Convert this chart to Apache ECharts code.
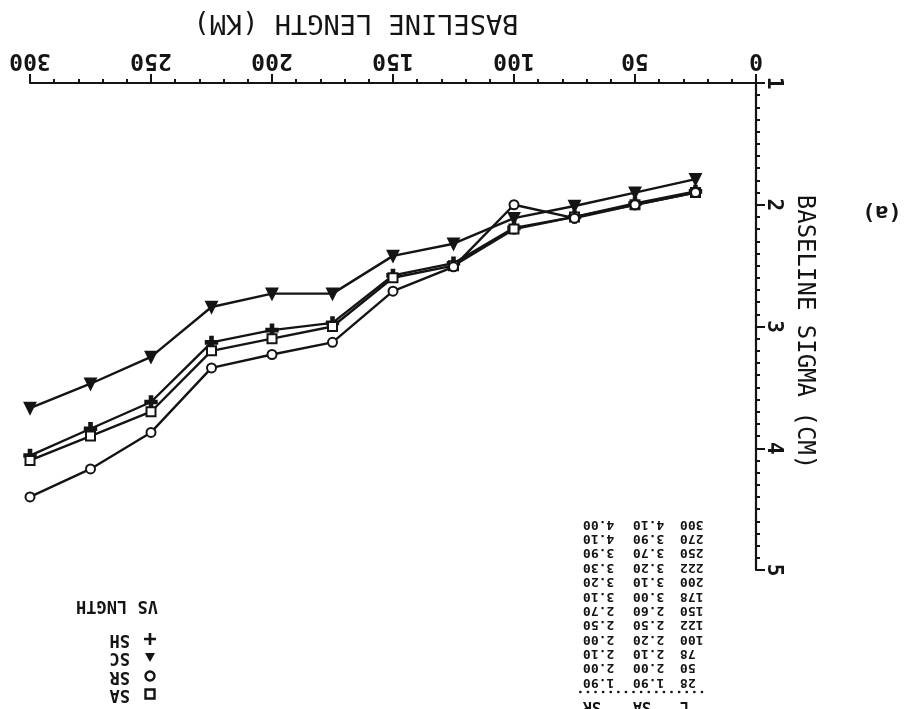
<!DOCTYPE html>
<html>
<head>
<meta charset="utf-8">
<script src="https://cdn.jsdelivr.net/npm/echarts@6/dist/echarts.min.js"></script>
<style>
  html, body { margin: 0; padding: 0; background: #fff; }
  #chart { width: 924px; height: 709px; }
</style>
</head>
<body>
<div id="chart"></div>
<script>
// Baseline length (km) and formal sigma (cm) for the four solutions
const lengthsKm = [25, 50, 75, 100, 125, 150, 175, 200, 225, 250, 275, 300];
const sigmaSH = [1.89, 1.99, 2.10, 2.19, 2.48, 2.58, 2.97, 3.03, 3.13, 3.62, 3.84, 4.06];
const sigmaSC = [1.79, 1.90, 2.01, 2.11, 2.32, 2.42, 2.73, 2.73, 2.84, 3.25, 3.47, 3.67];
const sigmaSR = [1.90, 2.00, 2.11, 2.00, 2.51, 2.71, 3.13, 3.23, 3.34, 3.87, 4.17, 4.40];
const sigmaSA = [1.90, 2.00, 2.10, 2.20, 2.50, 2.60, 3.00, 3.10, 3.20, 3.70, 3.90, 4.10];

// Printed listing beside the plot
const tableHeader = ['L', 'SA', 'SR'];
const tableL = [28, 50, 78, 100, 122, 150, 178, 200, 222, 250, 270, 300];
const tableA = ['1.90', '2.00', '2.10', '2.20', '2.50', '2.60', '3.00', '3.10', '3.20', '3.70', '3.90', '4.10'];
const tableB = ['1.90', '2.00', '2.10', '2.00', '2.50', '2.70', '3.10', '3.20', '3.30', '3.90', '4.10', '4.00'];

const legendNames = ['SA', 'SR', 'SC', 'SH'];
const legendTitle = 'VS LNGTH';
const xTitle = 'BASELINE LENGTH (KM)';
const yTitle = 'BASELINE SIGMA (CM)';
const panelTag = '(a)';

const INK = '#141414';
const MONO = '"DejaVu Sans Mono", "Liberation Mono", monospace';
const PLUS = 'path://M4,0H6V4H10V6H6V10H4V6H0V4H4Z';

function pairs(ys) { return lengthsKm.map((x, i) => [x, ys[i]]); }

function lineSeries(name, ys, symbol, size, extra) {
  return Object.assign({
    name: name,
    type: 'line',
    data: pairs(ys),
    symbol: symbol,
    symbolSize: size,
    showAllSymbol: true,
    lineStyle: { color: INK, width: 2.4 },
    itemStyle: { color: INK, borderColor: INK, borderWidth: 2.4 },
    emphasis: { disabled: true },
    animation: false
  }, extra || {});
}

// Legend block (printed upside down with the rest of the sheet)
const legendSymbols = {
  SA: { type: 'rect', shape: { x: -4.5, y: -4.5, width: 9, height: 9 }, style: { fill: '#fff', stroke: INK, lineWidth: 2.4 } },
  SR: { type: 'circle', shape: { cx: 0, cy: 0, r: 4.5 }, style: { fill: '#fff', stroke: INK, lineWidth: 2.4 } },
  SC: { type: 'polygon', shape: { points: [[0, -5], [5, 4], [-5, 4]] }, style: { fill: INK } },
  SH: { type: 'polygon', shape: { points: [[-1.3,-6],[1.3,-6],[1.3,-1.3],[6,-1.3],[6,1.3],[1.3,1.3],[1.3,6],[-1.3,6],[-1.3,1.3],[-6,1.3],[-6,-1.3],[-1.3,-1.3]] }, style: { fill: INK } }
};
const legendChildren = [];
const legendRowY = [16, 34, 53, 71];
legendNames.forEach((n, i) => {
  const s = legendSymbols[n];
  legendChildren.push(Object.assign({}, s, { x: 25, y: legendRowY[i] }));
  legendChildren.push({
    type: 'text', x: 45, y: legendRowY[i],
    style: { text: n, font: 'bold 17px ' + MONO, fill: INK, verticalAlign: 'middle' }
  });
});
legendChildren.push({
  type: 'text', x: 58, y: 105,
  style: { text: legendTitle, font: 'bold 17px ' + MONO, fill: INK, align: 'center', verticalAlign: 'middle' }
});

// Listing block
const tableChildren = [];
const tFont = 'bold 13px ' + MONO;
const colRight = [22, 69, 119];
tableHeader.forEach((h, i) => {
  tableChildren.push({ type: 'text', x: colRight[i], y: 6,
    style: { text: h, font: 'bold 15px ' + MONO, fill: INK, align: 'right', verticalAlign: 'middle' } });
});
tableChildren.push({ type: 'line', shape: { x1: 0, y1: 20, x2: 122, y2: 20 },
  style: { stroke: INK, lineWidth: 2.6, lineDash: [0.1, 7.5], lineCap: 'round' } });
tableL.forEach((v, i) => {
  const y = 30 + i * 14.35;
  [String(v), tableA[i], tableB[i]].forEach((t, c) => {
    tableChildren.push({ type: 'text', x: colRight[c], y: y,
      style: { text: t, font: tFont, fill: INK, align: 'right', verticalAlign: 'middle' } });
  });
});

const chart = echarts.init(document.getElementById('chart'), null, { renderer: 'canvas' });
chart.setOption({
  backgroundColor: '#fff',
  animation: false,
  grid: { left: 30, right: 168, top: 83, bottom: 139, containLabel: false },
  xAxis: {
    type: 'value', position: 'top', inverse: true,
    min: 0, max: 300, interval: 50,
    axisLine: { show: true, onZero: false, lineStyle: { color: INK, width: 2.2 } },
    axisTick: { show: true, inside: false, length: 9, lineStyle: { color: INK, width: 2 } },
    minorTick: { show: true, splitNumber: 5, length: 4, lineStyle: { color: INK, width: 2 } },
    splitLine: { show: false },
    axisLabel: { show: true, rotate: 180, margin: 12, color: INK, fontFamily: MONO, fontWeight: 'bold', fontSize: 23 }
  },
  yAxis: {
    type: 'value', position: 'right', inverse: true,
    min: 1, max: 5, interval: 1,
    axisLine: { show: true, onZero: false, lineStyle: { color: INK, width: 2.2 } },
    axisTick: { show: true, inside: false, length: 9, lineStyle: { color: INK, width: 2 } },
    minorTick: { show: true, splitNumber: 10, length: 4, lineStyle: { color: INK, width: 2 } },
    splitLine: { show: false },
    axisLabel: { show: true, rotate: -90, margin: 7, color: INK, fontFamily: MONO, fontWeight: 'bold', fontSize: 21 }
  },
  series: [
    lineSeries('SC', sigmaSC, 'triangle', 10, { symbolRotate: 180 }),
    lineSeries('SH', sigmaSH, PLUS, 11),
    lineSeries('SA', sigmaSA, 'emptyRect', 9),
    lineSeries('SR', sigmaSR, 'emptyCircle', 9)
  ],
  graphic: [
    { type: 'text', x: 356, y: 22, rotation: Math.PI,
      style: { text: xTitle, font: '27px ' + MONO, fill: INK, align: 'center', verticalAlign: 'middle' } },
    { type: 'text', x: 804, y: 332, rotation: -Math.PI / 2,
      style: { text: yTitle, font: '24px ' + MONO, fill: INK, align: 'center', verticalAlign: 'middle' } },
    { type: 'text', x: 882, y: 212, rotation: Math.PI,
      style: { text: panelTag, font: 'bold 22px ' + MONO, fill: INK, align: 'center', verticalAlign: 'middle' } },
    { type: 'group', x: 175, y: 710, rotation: Math.PI, children: legendChildren },
    { type: 'group', x: 702, y: 712, rotation: Math.PI, children: tableChildren }
  ]
});
</script>
</body>
</html>
